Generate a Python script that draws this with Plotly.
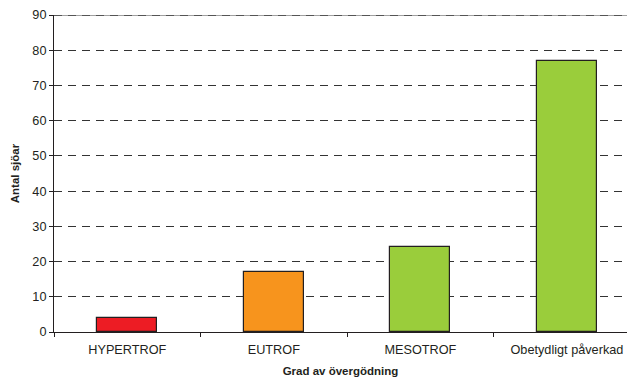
import plotly.graph_objects as go

categories = ["HYPERTROF", "EUTROF", "MESOTROF", "Obetydligt påverkad"]
values = [4, 17, 24, 77]
colors = ["#ED1C24", "#F7941D", "#9ACD3B", "#9ACD3B"]

fig = go.Figure(go.Bar(
    x=categories, y=values,
    marker=dict(color=colors, line=dict(color="#231F20", width=1.2)),
    width=0.41,
))

font = "Liberation Sans, Arial, sans-serif"
fig.update_layout(
    width=627, height=378,
    margin=dict(l=54, r=0, t=15, b=46),
    paper_bgcolor="white", plot_bgcolor="white",
    font=dict(family=font, size=12.7, color="#231F20"),
    showlegend=False,
    bargap=0,
)
# top border line at 90 (gray, dashed two-tone)
fig.add_shape(type="line", xref="paper", yref="y", x0=0, x1=1, y0=90, y1=90,
              line=dict(color="#A0A0A0", width=2), layer="above")
fig.add_shape(type="line", xref="paper", yref="y", x0=0, x1=1, y0=90, y1=90,
              line=dict(color="#555555", width=2, dash="8px,6px"), layer="above")
fig.update_xaxes(
    range=[-0.5, 3.41],
    showline=True, linecolor="#231F20", linewidth=1,
    ticks="outside", tickson="boundaries", ticklen=4, tickcolor="#231F20",
    ticklabelstandoff=6,
    showgrid=False,
    title=dict(text="<b>Grad av övergödning</b>", font=dict(size=11.5), standoff=10),
)
fig.update_yaxes(
    range=[0, 90], dtick=10,
    showline=True, linecolor="#231F20", linewidth=1,
    ticks="outside", ticklen=4, tickcolor="#231F20",
    showgrid=True, gridcolor="#333333", gridwidth=1, griddash="8px,6px",
    zeroline=False,
    title=dict(text="<b>Antal sjöar</b>", font=dict(size=11.5), standoff=10),
)
fig.write_html("out.html")
